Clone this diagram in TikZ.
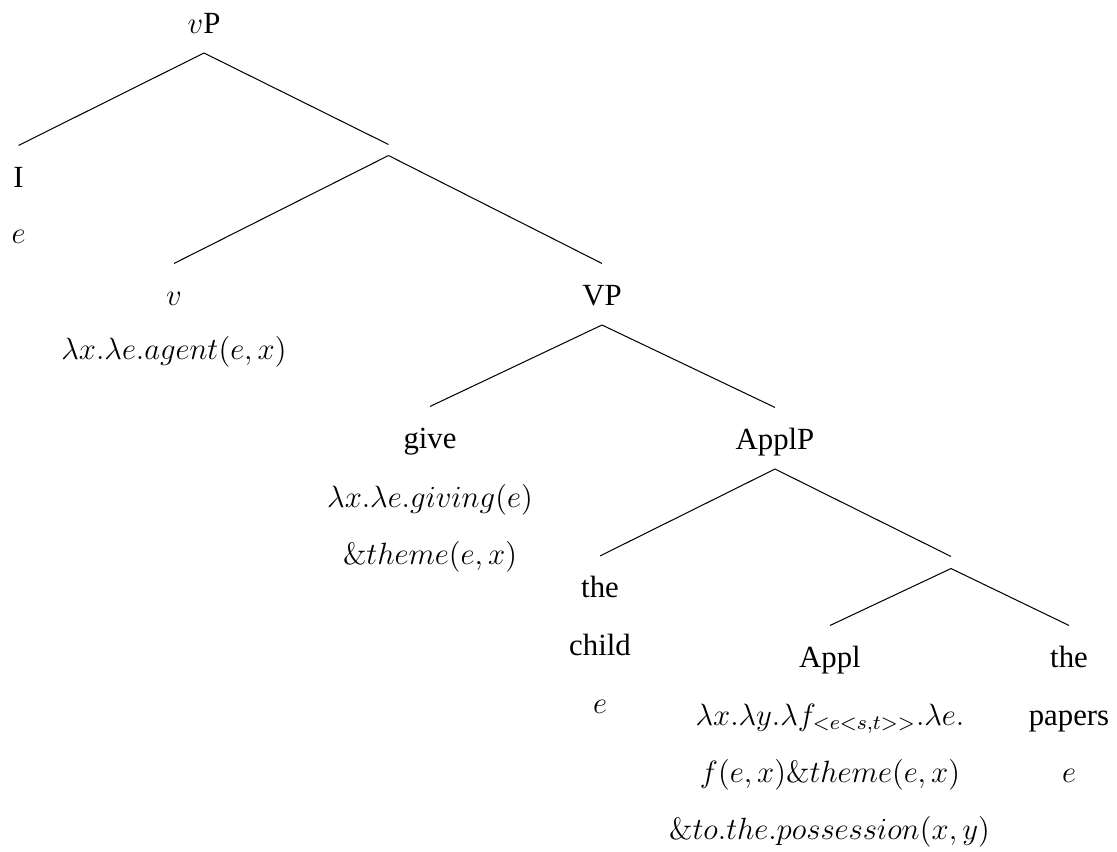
\documentclass[tikz,border=0pt]{standalone}
\usepackage[no-math]{fontspec}
\setmainfont{Liberation Serif}
\begin{document}
\begin{tikzpicture}[x=0.39pt,y=-0.39pt,
  every node/.style={font=\fontsize{12}{14}\selectfont, inner sep=0pt, anchor=base},
  lab/.style={text height=16pt, text depth=7.6pt},
  branchpt/.style={anchor=center, minimum height=#1, minimum width=0pt, text height=0pt, text depth=0pt},
  edge/.style={line width=0.4pt, black}]
\useasboundingbox (0,0) rectangle (1117,851);
% tree labels
\node[lab] (vP)    at (204,33)    {$v$P};
\node[lab] (I)     at (18.5,187)  {I};
\node[branchpt=3.9pt] (n1) at (388.5,150) {};
\node[lab] (v)     at (174,305)   {$v$};
\node[lab] (VP)    at (602,305)   {VP};
\node[lab] (give)  at (430,448)   {give};
\node[lab] (ApplP) at (775,449)   {ApplP};
\node[lab] (the1)  at (600,597.5) {the};
\node[branchpt=4.3pt] (n2) at (951,562.5) {};
\node[lab] (Appl)  at (830,667)   {Appl};
\node[lab] (the2)  at (1069,667)  {the};
% further lines of text
\node (Isem)    at (18.5,243.5) {$e$};
\node (vsem)    at (174,359.5)  {$\lambda x.\lambda e.agent(e,x)$};
\node (givesemA) at (430,507.5) {$\lambda x.\lambda e.giving(e)$};
\node (givesemB) at (430,564.5) {$\&theme(e,x)$};
\node (child)   at (600,655.5)  {child};
\node (childsem) at (600,713.5) {$e$};
\node (ApplsemA) at (830,725)   {$\lambda x.\lambda y.\lambda f_{<e<s,t>>}.\lambda e.$};
\node (ApplsemB) at (830,782)   {$f(e,x)\&theme(e,x)$};
\node (ApplsemC) at (829.5,839.5) {$\&to.the.possession(x,y)$};
\node (papers)  at (1069,725)   {papers};
\node (paperssem) at (1069,782) {$e$};
% branches
\draw[edge] (vP.south) -- (I.north);
\draw[edge] (vP.south) -- (n1.north);
\draw[edge] (n1.south) -- (v.north);
\draw[edge] (n1.south) -- (VP.north);
\draw[edge] (VP.south) -- (give.north);
\draw[edge] (VP.south) -- (ApplP.north);
\draw[edge] (ApplP.south) -- (the1.north);
\draw[edge] (ApplP.south) -- (n2.north);
\draw[edge] (n2.south) -- (Appl.north);
\draw[edge] (n2.south) -- (the2.north);
\end{tikzpicture}
\end{document}
